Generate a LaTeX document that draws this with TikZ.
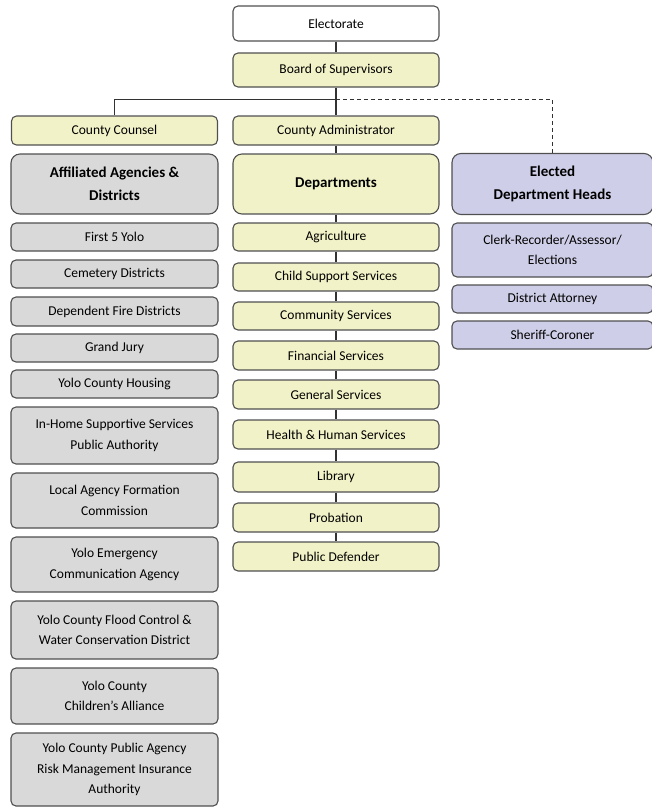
\documentclass[tikz,border=0pt]{standalone}
\definecolor{deptYellow}{RGB}{242, 242, 200}
\definecolor{agencyGray}{RGB}{217, 217, 217}
\definecolor{electedLavender}{RGB}{206, 206, 232}
\definecolor{boxBorder}{RGB}{80, 80, 80}
\definecolor{lineGray}{RGB}{50, 50, 50}
\usepackage{fontspec}
\setmainfont{Carlito}
\usepackage{tikz}
\usetikzlibrary{positioning,calc}

\begin{document}
\begin{tikzpicture}[x=1pt,y=-1pt,
        orgbox/.style={draw=boxBorder,line width=1.1pt,rounded corners=5pt,align=center,
                       inner sep=2pt,minimum height=28pt,font=\fontsize{13.5}{20.5}\selectfont},
        deptbox/.style={orgbox,fill=deptYellow,minimum width=206pt},
        agencybox/.style={orgbox,fill=agencyGray,minimum width=207pt},
        electedbox/.style={orgbox,fill=electedLavender,minimum width=201pt},
        headbox/.style={rounded corners=9pt,minimum height=60pt,
                        font=\bfseries\fontsize{15}{23.5}\selectfont},
        link/.style={draw=lineGray,line width=1.1pt}
    ]
        \useasboundingbox (0,0) rectangle (652,807);

        % top of the chart
        \node[orgbox,minimum width=206pt,minimum height=35pt] (electorate) at (336,23.5) {Electorate};
        \node[deptbox,minimum height=34pt] (board) at (336,70) {Board of Supervisors};
        \node[deptbox,minimum height=29pt] (counsel) at (114.5,130.5) {County Counsel};
        \node[deptbox,minimum height=29pt] (admin) at (336,130.5) {County Administrator};

        % column heads
        \node[agencybox,headbox] (affiliated) at (114.5,184) {Affiliated Agencies \&\\Districts};
        \node[deptbox,headbox] (departments) at (336,184) {Departments};
        \node[electedbox,headbox,minimum height=61pt] (elected) at (552.5,184) {Elected\\Department Heads};

        % affiliated agencies
        \node[agencybox] (first5) at (114.5,237) {First 5 Yolo};
        \node[agencybox] (cemetery) at (114.5,274) {Cemetery Districts};
        \node[agencybox,minimum height=29pt] (fire) at (114.5,311.5) {Dependent Fire Districts};
        \node[agencybox] (grandjury) at (114.5,348) {Grand Jury};
        \node[agencybox] (housing) at (114.5,384) {Yolo County Housing};
        \node[agencybox,minimum height=57pt] (ihss) at (114.5,435.5) {In-Home Supportive Services\\Public Authority};
        \node[agencybox,minimum height=55pt] (lafco) at (114.5,500.5) {Local Agency Formation\\Commission};
        \node[agencybox,minimum height=55pt] (yecha) at (114.5,564.5) {Yolo Emergency\\Communication Agency};
        \node[agencybox,minimum height=58pt] (flood) at (114.5,630) {Yolo County Flood Control \&\\Water Conservation District};
        \node[agencybox,minimum height=56pt] (alliance) at (114.5,696) {Yolo County\\Children’s Alliance};
        \node[agencybox,minimum height=73pt] (prima) at (114.5,769.5) {Yolo County Public Agency\\Risk Management Insurance\\Authority};

        % departments
        \node[deptbox] (agriculture) at (336,237) {Agriculture};
        \node[deptbox] (childsupport) at (336,277) {Child Support Services};
        \node[deptbox] (community) at (336,316) {Community Services};
        \node[deptbox,minimum height=29pt] (financial) at (336,355.5) {Financial Services};
        \node[deptbox,minimum height=29pt] (general) at (336,394.5) {General Services};
        \node[deptbox,minimum height=29pt] (health) at (336,434.5) {Health \& Human Services};
        \node[deptbox,minimum height=30pt] (library) at (336,477) {Library};
        \node[deptbox,minimum height=29pt] (probation) at (336,517.5) {Probation};
        \node[deptbox,minimum height=29pt] (defender) at (336,556.5) {Public Defender};

        % elected department heads
        \node[electedbox,minimum height=54pt] (clerk) at (552.5,250) {Clerk-Recorder/Assessor/\\Elections};
        \node[electedbox] (da) at (552.5,299) {District Attorney};
        \node[electedbox] (sheriff) at (552.5,335) {Sheriff-Coroner};

        % connectors
        \coordinate (split) at (336,99.5);
        \draw[link] (electorate) -- (board);
        \draw[link] (board) -- (admin);
        \draw[link] (counsel.north) |- (split);
        \draw[link,dash pattern=on 4pt off 3pt] (split) -| (elected.north);
        \draw[link] (admin) -- (departments);
        \draw[link] (departments) -- (agriculture)
                    (agriculture) -- (childsupport)
                    (childsupport) -- (community)
                    (community) -- (financial)
                    (financial) -- (general)
                    (general) -- (health)
                    (health) -- (library)
                    (library) -- (probation)
                    (probation) -- (defender);
    \end{tikzpicture}
\end{document}
